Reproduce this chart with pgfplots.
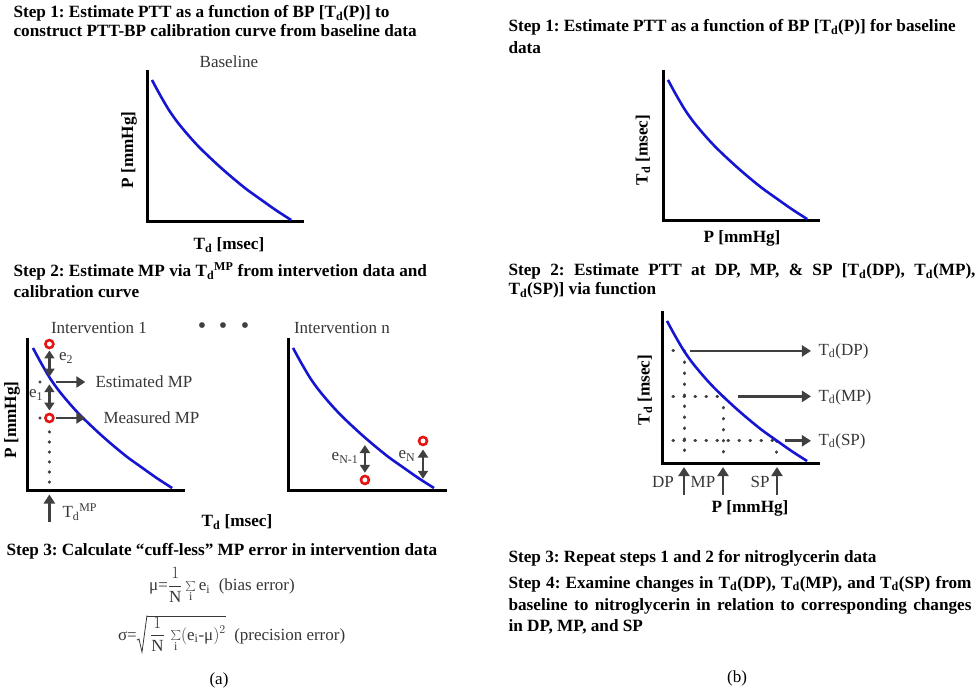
\documentclass[border=0pt]{standalone}
\usepackage{fontspec}
\setmainfont{Liberation Serif}
\usepackage{pgfplots}
\pgfplotsset{compat=1.18}
\usepackage{pgfplotstable}
\usetikzlibrary{arrows.meta}
\frenchspacing

\definecolor{cblue}{RGB}{22,22,210}
\definecolor{agray}{RGB}{64,64,64}
\definecolor{cred}{RGB}{228,20,20}
\definecolor{tgray}{RGB}{55,55,55}

% calibration curve shape (normalised axis units 0..100)
\pgfplotstableread{
X Y
3.2 94.7
8 85.5
14.1 74.7
20 66.1
27 57.4
33 50.6
39.1 44.4
47 36.8
55 29.6
64 22.0
73.7 14.8
83 8.0
93 1.3
}\curve

\pgfplotsset{schem/.style={scale only axis, xmin=0, xmax=100, ymin=0, ymax=100,
  axis lines=left, axis line style={line width=3pt, -, black, line cap=rect},
  xtick=\empty, ytick=\empty, clip=false, anchor=south west}}
\tikzset{
  arr/.style={agray, line width=2.8pt, -{Triangle[length=9pt,width=11pt]}},
  darr/.style={agray, line width=2.8pt, {Triangle[length=8pt,width=10pt]}-{Triangle[length=8pt,width=10pt]}},
  dotl/.style={agray, line width=3pt, line cap=round, dash pattern=on 0.6pt off 10.4pt}}
\newcommand\head{\fontsize{17.2}{20}\selectfont\bfseries}
\newcommand\lab{\fontsize{17}{20}\selectfont}

\begin{document}
\begin{tikzpicture}
\path[use as bounding box] (0,0) rectangle (976pt,691pt);

% ---- (a) Step 1: Baseline
\begin{axis}[schem, at={(147pt,469pt)}, width=155pt, height=150pt]
\addplot[cblue, line width=2.6pt, smooth] table {\curve};
\end{axis}

% ---- (a) Step 2: Intervention 1
\begin{axis}[schem, at={(28pt,201pt)}, width=155pt, height=150pt]
\addplot[cblue, line width=2.6pt, smooth] table {\curve};
\addplot[only marks, mark=*, mark size=1.4pt, agray] coordinates
  {(7.7,72) (7.7,48) (13.8,38.7) (13.8,32) (13.8,25.3) (13.8,18.7) (13.8,12) (13.8,5.3)};
\draw[darr] (axis cs:13.8,93) -- (axis cs:13.8,75.5);
\draw[darr] (axis cs:13.8,70.5) -- (axis cs:13.8,53);
\draw[arr] (axis cs:18,72) -- (axis cs:37,72);
\draw[arr] (axis cs:18,48) -- (axis cs:37,48);
\draw[arr] (axis cs:13.8,-21.3) -- (axis cs:13.8,-3);
\addplot[only marks, mark=o, mark size=4pt, cred, line width=2.6pt] coordinates {(13.8,97.3) (13.8,48)};
\end{axis}

% ---- (a) Step 2: Intervention n
\begin{axis}[schem, at={(288pt,201pt)}, width=157pt, height=150pt]
\addplot[cblue, line width=2.6pt, smooth] table {\curve};
\draw[darr] (axis cs:49,30) -- (axis cs:49,11.5);
\draw[darr] (axis cs:86,27) -- (axis cs:86,7.5);
\addplot[only marks, mark=o, mark size=4pt, cred, line width=2.6pt] coordinates {(49,6.7) (86,32.7)};
\end{axis}

% ---- (b) Step 1
\begin{axis}[schem, at={(663pt,470pt)}, width=155pt, height=149pt]
\addplot[cblue, line width=2.6pt, smooth] table {\curve};
\end{axis}

% ---- (b) Step 2
\begin{axis}[schem, at={(662pt,228pt)}, width=156pt, height=150pt]
\draw[dotl] (axis cs:7,74.7) -- (axis cs:14.1,74.7);
\draw[dotl] (axis cs:7,44.4) -- (axis cs:39.1,44.4);
\draw[dotl] (axis cs:7,14.8) -- (axis cs:73.7,14.8);
\draw[dotl] (axis cs:14.1,74.7) -- (axis cs:14.1,3);
\draw[dotl] (axis cs:39.1,44.4) -- (axis cs:39.1,3);
\draw[dotl] (axis cs:73.7,14.8) -- (axis cs:73.7,3);
\addplot[cblue, line width=2.6pt, smooth] table {\curve};
\draw[arr] (axis cs:18,74.7) -- (axis cs:95.5,74.7);
\draw[arr] (axis cs:48.7,44.4) -- (axis cs:95.5,44.4);
\draw[arr] (axis cs:78.8,14.8) -- (axis cs:95.5,14.8);
\draw[arr] (axis cs:14.1,-21.3) -- (axis cs:14.1,-2.7);
\draw[arr] (axis cs:39.1,-21.3) -- (axis cs:39.1,-2.7);
\draw[arr] (axis cs:73.7,-21.3) -- (axis cs:73.7,-2.7);
\end{axis}

% ---- text (pixel coordinates from top)
\begin{scope}[shift={(0pt,691pt)}, x=1pt, y=-1pt]
% (a)
\node[anchor=base west, font=\head] at (10,18) {Step 1: Estimate PTT as a function of BP [T\textsubscript{d}(P)] to};
\node[anchor=base west, font=\head] at (10,37) {construct PTT-BP calibration curve from baseline data};
\node[font=\lab, tgray] at (229,62) {Baseline};
\node[rotate=90, font=\head] at (129,150) {P [mmHg]};
\node[font=\head] at (229,245) {T\textsubscript{d} [msec]};
\node[anchor=base west, font=\head] at (10,277) {Step 2: Estimate MP via T\textsubscript{d}\textsuperscript{MP} from intervetion data and};
\node[anchor=base west, font=\head] at (10,298) {calibration curve};
\node[font=\lab, tgray] at (99,328) {Intervention 1};
\node[font=\fontsize{24}{24}\selectfont, agray] at (202,328) {•};
\node[font=\fontsize{24}{24}\selectfont, agray] at (223,328) {•};
\node[font=\fontsize{24}{24}\selectfont, agray] at (245,328) {•};
\node[font=\lab, tgray] at (342,328) {Intervention n};
\node[font=\lab, tgray] at (66,358) {e\textsubscript{2}};
\node[font=\lab, tgray] at (36,395) {e\textsubscript{1}};
\node[anchor=west, font=\lab, tgray] at (92,382) {Estimated MP};
\node[anchor=west, font=\lab, tgray] at (100,418) {Measured MP};
\node[anchor=west, font=\lab, tgray] at (59,512) {T\textsubscript{d}\textsuperscript{MP}};
\node[rotate=90, font=\head] at (12,420) {P [mmHg]};
\node[font=\head] at (237,522) {T\textsubscript{d} [msec]};
\node[font=\lab, tgray] at (345,458) {e\textsubscript{N-1}};
\node[font=\lab, tgray] at (407,456) {e\textsubscript{N}};
\node[anchor=base west, font=\head] at (3,555) {Step 3: Calculate “cuff-less” MP error in intervention data};
\node[font=\lab, tgray] at (222,585) {μ=$\displaystyle\frac{1}{\mathrm{N}}\textstyle\sum\limits_{\mathrm{i}}\mathrm{e}_{\mathrm{i}}$\ \ (bias error)};
\node[font=\lab, tgray, anchor=base east, inner sep=0pt] at (137,640) {σ=};
\node[font=\lab, tgray, anchor=base west, inner sep=0pt] (body) at (147,640)
  {$\overline{\rule{0pt}{19pt}\,\displaystyle\frac{1}{\mathrm{N}}\,\textstyle\sum\limits_{\mathrm{i}}(\mathrm{e}_{\mathrm{i}}\mbox{-μ})^2}$\ \ (precision error)};
\draw[tgray, line width=0.8pt, line join=miter] ([yshift=-0.35pt]body.north west) -- ([xshift=-5pt]body.south west)
  -- ([xshift=-8pt, yshift=13pt]body.south west) -- ([xshift=-10pt, yshift=12pt]body.south west);
\node[font=\lab] at (219,680) {(a)};
% (b)
\node[anchor=base west, font=\head] at (505,32) {Step 1: Estimate PTT as a function of BP [T\textsubscript{d}(P)] for baseline};
\node[anchor=base west, font=\head] at (505,54) {data};
\node[rotate=90, font=\head] at (643,150) {T\textsubscript{d} [msec]};
\node[font=\head] at (742,238) {P [mmHg]};
\node[anchor=base west, font=\head] at (505,276) {\makebox[467pt][s]{Step 2: Estimate PTT at DP, MP, \& SP [T\textsubscript{d}(DP), T\textsubscript{d}(MP),}};
\node[anchor=base west, font=\head] at (505,295) {T\textsubscript{d}(SP)] via function};
\node[anchor=west, font=\lab, tgray] at (815,351) {T\textsubscript{d}(DP)};
\node[anchor=west, font=\lab, tgray] at (815,397) {T\textsubscript{d}(MP)};
\node[anchor=west, font=\lab, tgray] at (815,441) {T\textsubscript{d}(SP)};
\node[font=\lab, tgray] at (663,482) {DP};
\node[font=\lab, tgray] at (703,482) {MP};
\node[font=\lab, tgray] at (760,482) {SP};
\node[rotate=90, font=\head] at (645,390) {T\textsubscript{d} [msec]};
\node[font=\head] at (750,508) {P [mmHg]};
\node[anchor=base west, font=\head] at (505,562) {Step 3: Repeat steps 1 and 2 for nitroglycerin data};
\node[anchor=base west, font=\head] at (505,588) {\makebox[463pt][s]{Step 4: Examine changes in T\textsubscript{d}(DP), T\textsubscript{d}(MP), and T\textsubscript{d}(SP) from}};
\node[anchor=base west, font=\head] at (505,610) {\makebox[463pt][s]{baseline to nitroglycerin in relation to corresponding changes}};
\node[anchor=base west, font=\head] at (505,631) {in DP, MP, and SP};
\node[font=\lab] at (737,678) {(b)};
\end{scope}
\end{tikzpicture}
\end{document}
